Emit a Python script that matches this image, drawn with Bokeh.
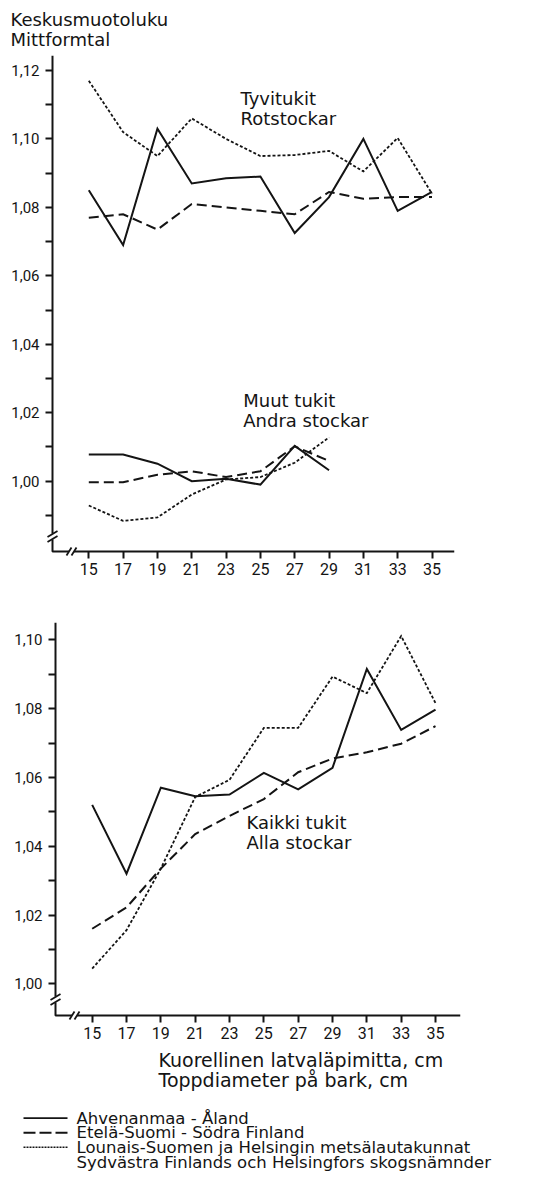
from bokeh.plotting import figure
from bokeh.models import FixedTicker, CustomJSTickFormatter, Label, Range1d
from bokeh.layouts import column
from bokeh.embed import file_html
from bokeh.resources import INLINE

# ---------------- data ----------------
diam = [15, 17, 19, 21, 23, 25, 27, 29, 31, 33, 35]
diam_other = [15, 17, 19, 21, 23, 25, 27, 29]

# Tyvitukit / Rotstockar (butt logs)
butt_aland = [1.085, 1.069, 1.103, 1.087, 1.0885, 1.089, 1.0725, 1.083, 1.100, 1.079, 1.0845]
butt_south = [1.077, 1.078, 1.0735, 1.081, 1.080, 1.079, 1.078, 1.0845, 1.0825, 1.083, 1.083]
butt_sw = [1.117, 1.102, 1.095, 1.106, 1.100, 1.095, 1.0953, 1.0965, 1.0905, 1.1003, 1.084]

# Muut tukit / Andra stockar (other logs)
other_aland = [1.0078, 1.0078, 1.0051, 1.0000, 1.0007, 0.9990, 1.0103, 1.0032]
other_south = [0.9997, 0.9997, 1.0019, 1.0029, 1.0012, 1.0029, 1.0102, 1.0059]
other_sw = [0.9929, 0.9884, 0.9894, 0.9961, 1.0005, 1.0012, 1.0054, 1.0128]

# Kaikki tukit / Alla stockar (all logs)
all_aland = [1.052, 1.032, 1.057, 1.0545, 1.055, 1.0613, 1.0565, 1.0628, 1.0915, 1.0738, 1.0797]
all_south = [1.016, 1.0222, 1.0335, 1.0435, 1.0488, 1.0537, 1.0615, 1.0655, 1.0673, 1.0698, 1.0749]
all_sw = [1.0044, 1.0156, 1.0335, 1.0543, 1.0593, 1.0744, 1.0744, 1.0893, 1.0845, 1.1011, 1.0816]

top_y_ticks = [1.00, 1.02, 1.04, 1.06, 1.08, 1.10, 1.12]
top_y_minor = [0.99, 1.01, 1.03, 1.05, 1.07, 1.09, 1.11]
bot_y_ticks = [1.00, 1.02, 1.04, 1.06, 1.08, 1.10]
bot_y_minor = [1.01, 1.03, 1.05, 1.07, 1.09]

y_title = ["Keskusmuotoluku", "Mittformtal"]
top_label_butt = ["Tyvitukit", "Rotstockar"]
top_label_other = ["Muut tukit", "Andra stockar"]
bot_label_all = ["Kaikki tukit", "Alla stockar"]
x_title = ["Kuorellinen latvaläpimitta, cm", "Toppdiameter på bark, cm"]
legend_labels = ["Ahvenanmaa - Åland", "Etelä-Suomi - Södra Finland",
                 "Lounais-Suomen ja Helsingin metsälautakunnat",
                 "Sydvästra Finlands och Helsingfors skogsnämnder"]

INK = "#141414"
FONT = "DejaVu Sans"
NUMFONT = "Roboto"
STYLES = [dict(line_width=2.0, line_dash="solid"),
          dict(line_width=2.0, line_dash="10 5"),
          dict(line_width=1.8, line_dash="3 2")]
LEGEND_STYLES = [dict(line_width=1.8, line_dash="solid"),
                 dict(line_width=2.0, line_dash="12 4"),
                 dict(line_width=1.6, line_dash="2 1")]

fmt = CustomJSTickFormatter(code="return tick.toFixed(2).replace('.', ',');")
GAP = 7  # px between frame edge and drawn axis line


def make_chart(height, xr, yr, borders, yticks, yminor):
    left, right, top, bottom = borders
    p = figure(width=545, height=height, output_backend="svg", toolbar_location=None,
               x_range=Range1d(*xr), y_range=Range1d(*yr), frame_align=False,
               min_border=0, min_border_left=left, min_border_right=right,
               min_border_top=top, min_border_bottom=bottom)
    p.grid.visible = False
    p.outline_line_color = None
    for ax in (p.xaxis[0], p.yaxis[0]):
        ax.axis_line_color = None
        ax.major_tick_line_color = INK
        ax.major_tick_line_width = 2
        ax.minor_tick_line_color = INK
        ax.minor_tick_line_width = 2
        ax.major_tick_in = GAP
        ax.major_tick_out = 0
        ax.minor_tick_in = GAP
        ax.minor_tick_out = 0
        ax.major_label_text_font = NUMFONT
        ax.major_label_text_color = INK
    p.xaxis.ticker = FixedTicker(ticks=diam)
    p.xaxis.major_label_text_font_size = "16px"
    p.xaxis.major_label_standoff = 4
    p.yaxis.ticker = FixedTicker(ticks=yticks, minor_ticks=yminor)
    p.yaxis.formatter = fmt
    p.yaxis.major_label_text_font_size = "15px"
    p.yaxis.major_label_standoff = 6
    return p


def add_text(p, x, y, lines, size="18px", pitch=0.0):
    for i, t in enumerate(lines):
        p.add_layout(Label(x=x, y=y - i * pitch, text=t, text_font=FONT,
                           text_font_size=size, text_color=INK,
                           text_baseline="top", text_align="left"))


def breaks(p, x0, y0, dx, dy, ybreak, xbreak):
    # dx, dy = data units per pixel
    p.segment(x0, ybreak - 3 * dy, x0, ybreak + 3 * dy, line_color="white", line_width=4)
    for k in (-2.5, 2.5):
        p.segment(x0 - 5 * dx, ybreak + (k - 3) * dy, x0 + 5 * dx, ybreak + (k + 3) * dy,
                  line_color=INK, line_width=1.8)
    p.segment(xbreak - 2.5 * dx, y0, xbreak + 2.5 * dx, y0, line_color="white", line_width=4)
    for k in (-2.5, 2.5):
        p.segment(xbreak + (k - 2.5) * dx, y0 - 4 * dy, xbreak + (k + 2.5) * dx, y0 + 4 * dy,
                  line_color=INK, line_width=1.8)


# ---------------- title strip ----------------
p0 = figure(width=545, height=52, output_backend="svg", toolbar_location=None,
            x_range=Range1d(0, 545), y_range=Range1d(52, 0), frame_align=False,
            min_border=0, x_axis_location=None, y_axis_location=None)
p0.grid.visible = False
p0.outline_line_color = None
for i, t in enumerate(y_title):
    p0.add_layout(Label(x=10, y=8 + 20 * i, text=t, text_font=FONT, text_font_size="18px",
                        text_color=INK, text_baseline="top", text_align="left"))

# ---------------- top chart ----------------
xr1, yr1 = (12.477, 36.311), (0.97741, 1.12438)
x01, y01 = 12.885, 0.97946
dx1, dy1 = 1 / 17.16, 0.01 / 34.22
p1 = make_chart(546, xr1, yr1, (45, 91, 3, 40), top_y_ticks, top_y_minor)
p1.line([x01, x01, xr1[1]], [yr1[1], y01, y01], line_color=INK, line_width=2)
for ys, st in zip([butt_aland, butt_south, butt_sw], STYLES):
    p1.line(diam, ys, line_color=INK, line_join="miter", **st)
for ys, st in zip([other_aland, other_south, other_sw], STYLES):
    p1.line(diam_other, ys, line_color=INK, line_join="miter", **st)
breaks(p1, x01, y01, dx1, dy1, y01 + 15 * dy1, x01 + 19 * dx1)
add_text(p1, 23.84, 1.11474, top_label_butt, pitch=20 * dy1)
add_text(p1, 24.0, 1.02651, top_label_other, pitch=20 * dy1)

# ---------------- bottom chart ----------------
xr2, yr2 = (12.455, 36.456), (0.98875, 1.10503)
x02, y02 = 12.863, 0.99078
dx2, dy2 = 1 / 17.17, 0.01 / 34.4
p2 = make_chart(447, xr2, yr2, (48, 85, 24, 23), bot_y_ticks, bot_y_minor)
p2.line([x02, x02, xr2[1]], [yr2[1], y02, y02], line_color=INK, line_width=2)
for ys, st in zip([all_aland, all_south, all_sw], STYLES):
    p2.line(diam, ys, line_color=INK, line_join="miter", **st)
breaks(p2, x02, y02, dx2, dy2, y02 + 16 * dy2, x02 + 19 * dx2)
add_text(p2, 23.99, 1.0498, bot_label_all, pitch=20 * dy2)

# ---------------- axis title + legend strip ----------------
p3 = figure(width=545, height=147, output_backend="svg", toolbar_location=None,
            x_range=Range1d(0, 545), y_range=Range1d(147, 0), frame_align=False,
            min_border=0, x_axis_location=None, y_axis_location=None)
p3.grid.visible = False
p3.outline_line_color = None
for i, t in enumerate(x_title):
    p3.add_layout(Label(x=158, y=3 + 20 * i, text=t, text_font=FONT, text_font_size="19px",
                        text_color=INK, text_baseline="top", text_align="left"))
row_y = [72.7, 87.3, 101.7, 116.7]
for i, st in enumerate(LEGEND_STYLES):
    p3.line([23, 67], [row_y[i], row_y[i]], line_color=INK, **st)
for i, t in enumerate(legend_labels):
    p3.add_layout(Label(x=76, y=row_y[i], text=t, text_font=FONT, text_font_size="16.5px",
                        text_color=INK, text_baseline="middle", text_align="left"))

layout = column(p0, p1, p2, p3, spacing=0)
open("out.html", "w").write(file_html(layout, INLINE))
